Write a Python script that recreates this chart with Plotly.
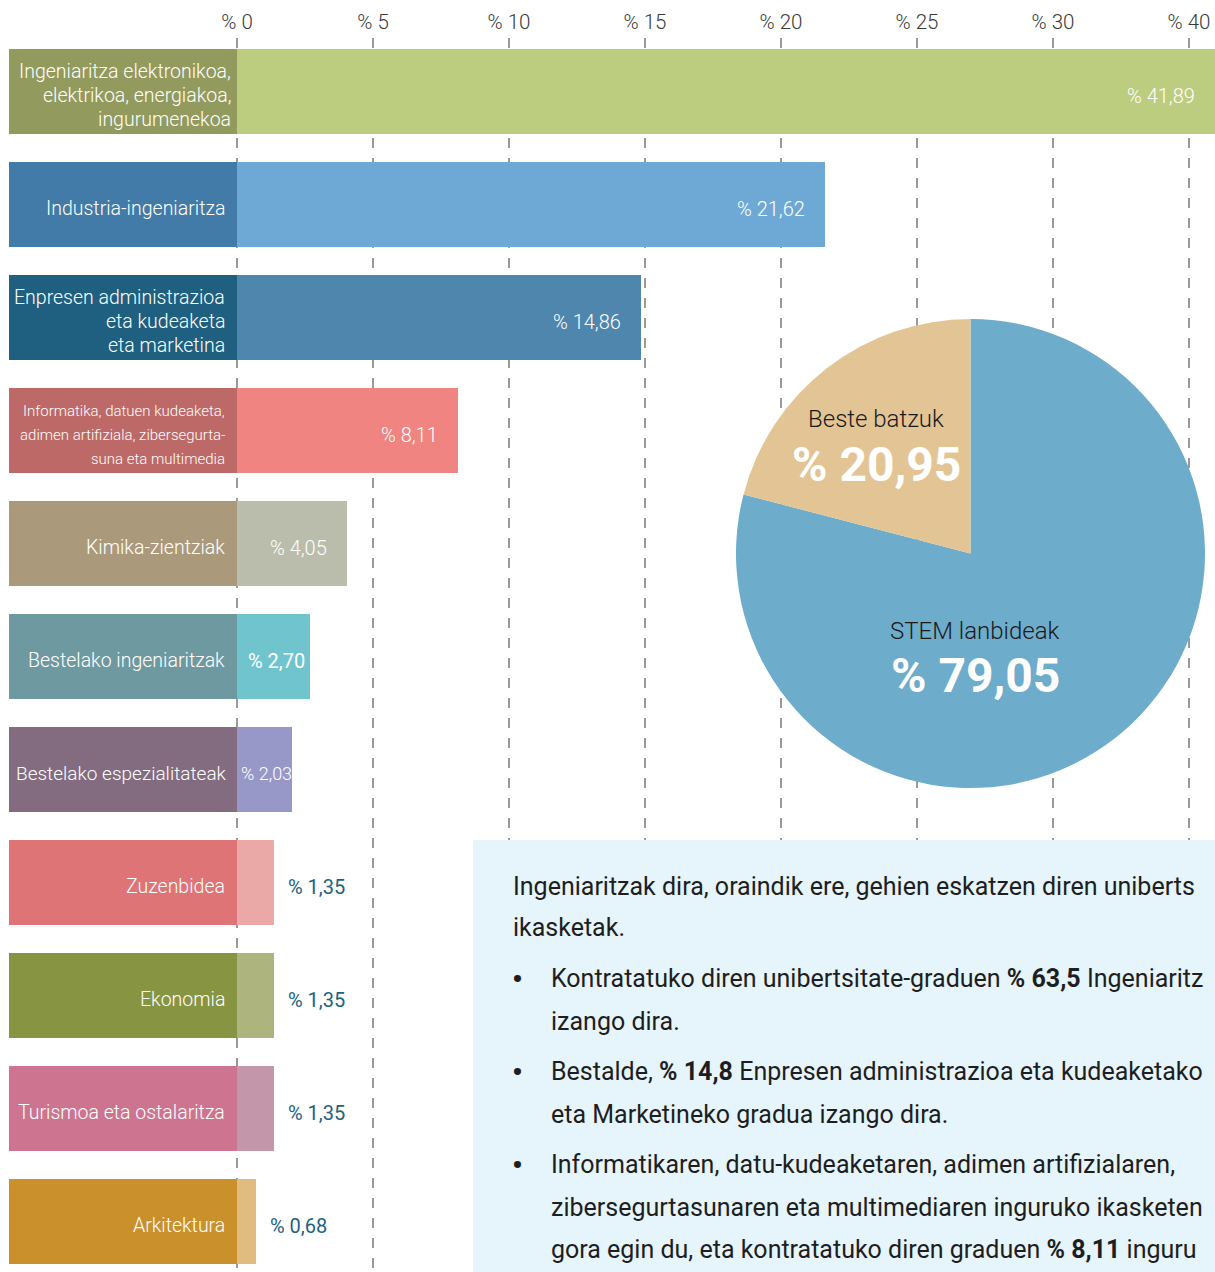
import plotly.graph_objects as go

# ---------------- data ----------------
categories = [
    "Ingeniaritza elektronikoa,<br>elektrikoa, energiakoa,<br>ingurumenekoa",
    "Industria-ingeniaritza",
    "Enpresen administrazioa<br>eta kudeaketa<br>eta marketina",
    "Informatika, datuen kudeaketa,<br>adimen artifiziala, zibersegurta-<br>suna eta multimedia",
    "Kimika-zientziak",
    "Bestelako ingeniaritzak",
    "Bestelako espezialitateak",
    "Zuzenbidea",
    "Ekonomia",
    "Turismoa eta ostalaritza",
    "Arkitektura",
]
values = [41.89, 21.62, 14.86, 8.11, 4.05, 2.70, 2.03, 1.35, 1.35, 1.35, 0.68]
value_labels = ["% 41,89", "% 21,62", "% 14,86", "% 8,11", "% 4,05", "% 2,70",
                "% 2,03", "% 1,35", "% 1,35", "% 1,35", "% 0,68"]
label_colors = ["#939A5E", "#427BA8", "#1F5F80", "#BD6967", "#AB997C", "#6F99A0",
                "#836C80", "#DE7476", "#879442", "#CD7590", "#CA902C"]
bar_colors = ["#BCCD80", "#6EA9D5", "#4E86AE", "#EF8480", "#BBBDAC", "#6FC4CD",
              "#9798C8", "#EAA9A6", "#ADB47E", "#C396A9", "#E0BC80"]
tick_values = [0, 5, 10, 15, 20, 25, 30, 35]
tick_labels = ["% 0", "% 5", "% 10", "% 15", "% 20", "% 25", "% 30", "% 40"]

pie_labels = ["STEM lanbideak", "Beste batzuk"]
pie_values = [79.05, 20.95]
pie_value_labels = ["% 79,05", "% 20,95"]
pie_colors = ["#6EACCC", "#E3C595"]

# the reference crops these lines at the right edge; only the visible part is kept
text_lines = [
    ("", "Ingeniaritzak dira, oraindik ere, gehien eskatzen diren uniberts"),
    ("", "ikasketak."),
    ("•", "Kontratatuko diren unibertsitate-graduen <b>% 63,5</b> Ingeniaritz"),
    ("", "izango dira."),
    ("•", "Bestalde, <b>% 14,8</b> Enpresen administrazioa eta kudeaketako"),
    ("", "eta Marketineko gradua izango dira."),
    ("•", "Informatikaren, datu-kudeaketaren, adimen artifizialaren,"),
    ("", "zibersegurtasunaren eta multimediaren inguruko ikasketen"),
    ("", "gora egin du, eta kontratatuko diren graduen <b>% 8,11</b> inguru"),
]

# ---------------- layout constants ----------------
W, H = 1215, 1272
MT = 38
PLOT_H = H - MT
ZERO_PX = 237
PX_PER_UNIT = 27.2
X_MIN = -ZERO_PX / PX_PER_UNIT
X_MAX = (W - ZERO_PX) / PX_PER_UNIT
LABEL_SPAN = 228 / PX_PER_UNIT
ROW_PX = 113
FIRST_ROW_CENTER = 91.5
Y_TOP = -(FIRST_ROW_CENTER - MT) / ROW_PX
Y_BOTTOM = Y_TOP + PLOT_H / ROW_PX
BAR_W = 85 / ROW_PX
TEXT_DROP = -4  # bar texts sit slightly below bar centre

FONT = "Roboto, 'Open Sans', sans-serif"
TEAL = "#1D6283"
DARK = "#1E1E1E"


def px_x(px):
    return px / W


def px_y(py):
    return (H - py) / PLOT_H


fig = go.Figure()

# label panels (left of zero)
fig.add_trace(go.Bar(
    y=categories, x=[LABEL_SPAN] * len(categories), base=[-LABEL_SPAN] * len(categories),
    orientation="h", width=BAR_W, marker=dict(color=label_colors, line=dict(width=0)),
    hoverinfo="skip", showlegend=False,
))
# value bars
fig.add_trace(go.Bar(
    y=categories, x=values, base=0, orientation="h", width=BAR_W,
    marker=dict(color=bar_colors, line=dict(width=0)),
    hovertemplate="%{y}: %{x}<extra></extra>", showlegend=False,
))

annotations = []
for i, (cat, val, lab) in enumerate(zip(categories, values, value_labels)):
    lines = cat.split("<br>")
    small = "zibersegurta" in cat
    size = 15 if small else 19.5
    if i == 0:
        xs = -4
    elif "espezialitateak" in cat:
        size = 19
        xs = -8
    else:
        xs = -10
    n = len(lines)
    for k, ln in enumerate(lines):
        annotations.append(dict(
            x=0, y=cat, xref="x", yref="y", xanchor="right", yanchor="middle",
            xshift=xs, yshift=TEXT_DROP + ((n - 1) / 2 - k) * 24,
            align="right", showarrow=False, text=ln,
            font=dict(family=FONT, size=size, color="#FFFFFF", weight=300),
        ))
    bar_px = val * PX_PER_UNIT
    if val >= 2:
        if bar_px >= 80:
            annotations.append(dict(
                x=min(val, X_MAX), y=cat, xanchor="right", yanchor="middle", xshift=-18,
                yshift=TEXT_DROP, showarrow=False, text=lab,
                font=dict(family=FONT, size=20, color="#FFFFFF", weight=300),
            ))
        else:
            fsize = 20 if bar_px >= 2.85 * 20 + 8 else 18
            annotations.append(dict(
                x=0, y=cat, xanchor="left", yanchor="middle",
                xshift=9 if fsize == 20 else 2, yshift=TEXT_DROP,
                showarrow=False, text=lab,
                font=dict(family=FONT, size=fsize, color="#FFFFFF",
                          weight=400 if fsize == 20 else 300),
            ))
    else:
        annotations.append(dict(
            x=val, y=cat, xanchor="left", yanchor="middle", xshift=12, yshift=TEXT_DROP,
            showarrow=False, text=lab,
            font=dict(family=FONT, size=20, color=TEAL, weight=400),
        ))

# pie
PIE_L, PIE_R, PIE_T, PIE_B = 736, 1205, 319, 788
fig.add_trace(go.Pie(
    labels=pie_labels, values=pie_values, sort=False, direction="clockwise",
    rotation=0, textinfo="none", marker=dict(colors=pie_colors, line=dict(width=0)),
    domain=dict(x=[px_x(PIE_L), px_x(PIE_R)], y=[px_y(PIE_B), px_y(PIE_T)]),
    showlegend=False, hovertemplate="%{label}: %{value}<extra></extra>",
))
pie_label_pos = [(975, 631, 675), (876, 419, 464)]
for (name, vlab, (cx, ny, vy)) in zip(pie_labels, pie_value_labels, pie_label_pos):
    annotations.append(dict(
        x=px_x(cx), y=px_y(ny), xref="paper", yref="paper", xanchor="center",
        yanchor="middle", showarrow=False, text=name,
        font=dict(family=FONT, size=24, color="#1A1A1A", weight=300),
    ))
    annotations.append(dict(
        x=px_x(cx), y=px_y(vy), xref="paper", yref="paper", xanchor="center",
        yanchor="middle", showarrow=False, text=f"<b>{vlab}</b>",
        font=dict(family=FONT, size=48, color="#FFFFFF"),
    ))

# text box
BOX_L, BOX_T = 473, 840
shapes = [dict(
    type="rect", xref="paper", yref="paper", x0=px_x(BOX_L), x1=1.0,
    y0=0, y1=px_y(BOX_T), fillcolor="#E6F4FC", line=dict(width=0), layer="above",
)]
line_y = [886, 928, 978, 1021, 1071, 1114, 1164, 1207, 1249]
for idx, ((bullet, txt), ly) in enumerate(zip(text_lines, line_y)):
    tx = 511 if idx < 2 else 549
    if bullet:
        annotations.append(dict(
            x=px_x(517), y=px_y(ly), xref="paper", yref="paper", xanchor="center",
            yanchor="middle", showarrow=False, text=f"<b>{bullet}</b>",
            font=dict(family=FONT, size=30, color=DARK),
        ))
    annotations.append(dict(
        x=px_x(tx), y=px_y(ly), xref="paper", yref="paper", xanchor="left",
        yanchor="middle", showarrow=False, text=txt,
        font=dict(family=FONT, size=25, color=DARK, weight=400),
    ))

fig.update_layout(
    width=W, height=H, margin=dict(l=0, r=0, t=MT, b=0, pad=0),
    paper_bgcolor="#FFFFFF", plot_bgcolor="#FFFFFF",
    barmode="overlay", bargap=0,
    shapes=shapes, annotations=annotations,
    font=dict(family=FONT),
    xaxis=dict(
        range=[X_MIN, X_MAX], side="top", tickvals=tick_values, ticktext=tick_labels,
        showgrid=True, gridcolor="#9A9A9A", gridwidth=2, griddash="10px,10px",
        zeroline=False, showline=False, ticks="", ticklabelstandoff=4,
        tickfont=dict(family=FONT, size=20.5, color="#3A3A3A", weight=300),
        fixedrange=True,
    ),
    yaxis=dict(
        type="category", range=[Y_BOTTOM, Y_TOP], showticklabels=False,
        showgrid=False, zeroline=False, showline=False, fixedrange=True,
    ),
)

fig.write_html("out.html", config={"displayModeBar": False},
               post_script="document.body.style.margin='0';")
